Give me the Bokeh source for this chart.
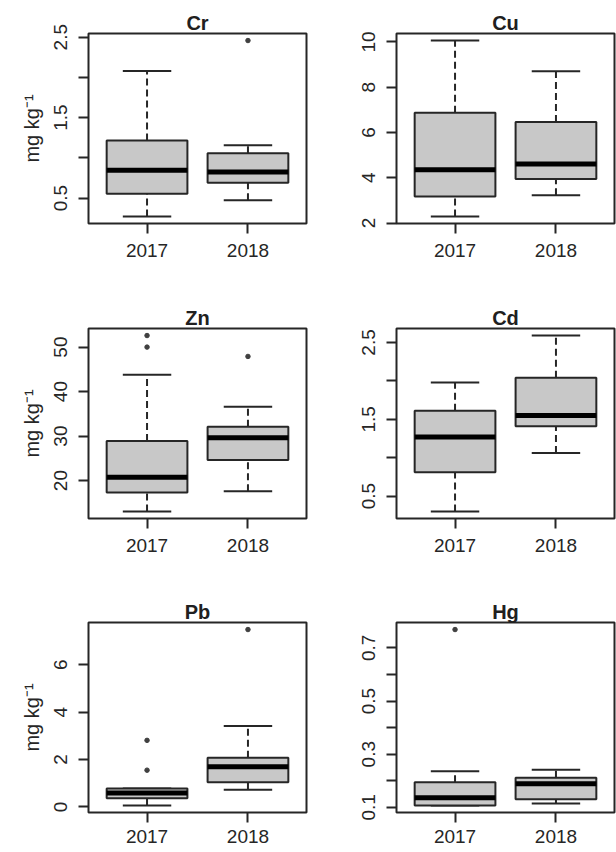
from bokeh.plotting import figure
from bokeh.layouts import column, row
from bokeh.models import ColumnDataSource, FixedTicker
from bokeh.embed import file_html
from bokeh.resources import INLINE

years = ["2017", "2018"]
metals = ["Cr", "Cu", "Zn", "Cd", "Pb", "Hg"]

# five-number summaries: [lower whisker, Q1, median, Q3, upper whisker]
cr_2017 = [0.272, 0.555, 0.845, 1.216, 2.08]
cr_2018 = [0.475, 0.69, 0.824, 1.057, 1.157]
cu_2017 = [2.29, 3.17, 4.35, 6.87, 10.06]
cu_2018 = [3.23, 3.94, 4.61, 6.46, 8.70]
zn_2017 = [13.05, 17.3, 20.75, 28.9, 43.76]
zn_2018 = [17.6, 24.6, 29.6, 32.1, 36.6]
cd_2017 = [0.30, 0.81, 1.27, 1.61, 1.98]
cd_2018 = [1.06, 1.41, 1.55, 2.04, 2.59]
pb_2017 = [0.06, 0.36, 0.59, 0.78, 0.78]
pb_2018 = [0.72, 1.04, 1.69, 2.08, 3.42]
hg_2017 = [0.107, 0.107, 0.136, 0.194, 0.236]
hg_2018 = [0.114, 0.130, 0.189, 0.211, 0.241]

# outliers
cr_out_2017 = []
cr_out_2018 = [2.458]
cu_out_2017 = []
cu_out_2018 = []
zn_out_2017 = [50.0, 52.6]
zn_out_2018 = [47.9]
cd_out_2017 = []
cd_out_2018 = []
pb_out_2017 = [1.55, 2.81]
pb_out_2018 = [7.49]
hg_out_2017 = [0.769]
hg_out_2018 = []

# y-axis ticks and their labels
cr_ticks = [0.5, 1.0, 1.5, 2.0, 2.5]
cr_labels = ["0.5", "", "1.5", "", "2.5"]
cu_ticks = [2, 4, 6, 8, 10]
cu_labels = ["2", "4", "6", "8", "10"]
zn_ticks = [20, 30, 40, 50]
zn_labels = ["20", "30", "40", "50"]
cd_ticks = [0.5, 1.0, 1.5, 2.0, 2.5]
cd_labels = ["0.5", "", "1.5", "", "2.5"]
pb_ticks = [0, 2, 4, 6]
pb_labels = ["0", "2", "4", "6"]
hg_ticks = [0.1, 0.2, 0.3, 0.4, 0.5, 0.6, 0.7]
hg_labels = ["0.1", "", "0.3", "", "0.5", "", "0.7"]

y_label = "mg kg\u207b\u00b9"

FONT = "Liberation Sans"
TITLE_FONT = "Liberation Sans"
DARK = "#262626"
BOX_FILL = "#c8c8c8"


def panel(name, s_a, s_b, o_a, o_b, ticks, labels, ylab, height, top, bottom, xstand=10):
    stats = [s_a, s_b]
    outs = [o_a, o_b]
    allv = s_a + s_b + o_a + o_b
    lo, hi = min(allv), max(allv)
    span = hi - lo
    x = [i + 1 for i in range(len(years))]
    p = figure(width=308, height=height, x_range=(0.42, 2.58),
               y_range=(lo - 0.04 * span, hi + 0.04 * span),
               output_backend="svg", toolbar_location=None,
               min_border_left=88, min_border_right=2,
               min_border_top=top, min_border_bottom=bottom,
               title=name)
    p.title.align = "center"
    p.title.text_font = TITLE_FONT
    p.title.text_font_size = "20px"
    p.title.text_font_style = "bold"
    p.title.text_color = "#202020"
    p.title.standoff = 0
    p.xgrid.visible = False
    p.ygrid.visible = False
    p.outline_line_color = DARK
    p.outline_line_width = 2
    p.background_fill_color = "white"

    src = ColumnDataSource(dict(
        x=x,
        wlo=[s[0] for s in stats], q1=[s[1] for s in stats],
        med=[s[2] for s in stats], q3=[s[3] for s in stats],
        whi=[s[4] for s in stats],
        cl=[v - 0.24 for v in x], cr=[v + 0.24 for v in x],
        bl=[v - 0.4 for v in x], br=[v + 0.4 for v in x],
    ))
    p.segment(x0="x", y0="q3", x1="x", y1="whi", source=src, line_color=DARK,
              line_width=2, line_dash="7 4")
    p.segment(x0="x", y0="wlo", x1="x", y1="q1", source=src, line_color=DARK,
              line_width=2, line_dash="7 4")
    p.segment(x0="cl", y0="whi", x1="cr", y1="whi", source=src, line_color=DARK, line_width=2)
    p.segment(x0="cl", y0="wlo", x1="cr", y1="wlo", source=src, line_color=DARK, line_width=2)
    p.vbar(x="x", width=0.8, bottom="q1", top="q3", source=src, fill_color=BOX_FILL,
           line_color=DARK, line_width=2)
    p.segment(x0="bl", y0="med", x1="br", y1="med", source=src, line_color="black", line_width=5)

    ox, oy = [], []
    for xi, o in zip(x, outs):
        ox += [xi] * len(o)
        oy += o
    p.scatter(ox, oy, size=4.5, color="#404040")

    xa = p.xaxis[0]
    xa.ticker = FixedTicker(ticks=x)
    xa.major_label_overrides = {xi: y for xi, y in zip(x, years)}
    ya = p.yaxis[0]
    ya.ticker = FixedTicker(ticks=ticks)
    ya.major_label_overrides = {t: l for t, l in zip(ticks, labels)}
    ya.major_label_orientation = "vertical"
    for ax in (xa, ya):
        ax.axis_line_color = None
        ax.major_tick_in = 0
        ax.major_tick_out = 10
        ax.minor_tick_out = 0
        ax.minor_tick_in = 0
        ax.major_tick_line_color = DARK
        ax.major_tick_line_width = 2
        ax.major_label_text_font = FONT
        ax.major_label_text_font_size = "19px"
        ax.major_label_text_color = DARK
    xa.major_label_standoff = xstand
    ya.major_label_standoff = 11
    if ylab:
        ya.axis_label = ylab
        ya.axis_label_text_font = FONT
        ya.axis_label_text_font_size = "20px"
        ya.axis_label_text_font_style = "normal"
        ya.axis_label_text_color = DARK
        ya.axis_label_standoff = 9
    return p


p1 = panel("Cr", cr_2017, cr_2018, cr_out_2017, cr_out_2018, cr_ticks, cr_labels, y_label, 300, 33, 77)
p2 = panel("Cu", cu_2017, cu_2018, cu_out_2017, cu_out_2018, cu_ticks, cu_labels, None, 300, 33, 77)
p3 = panel("Zn", zn_2017, zn_2018, zn_out_2017, zn_out_2018, zn_ticks, zn_labels, y_label, 290, 28, 72)
p4 = panel("Cd", cd_2017, cd_2018, cd_out_2017, cd_out_2018, cd_ticks, cd_labels, None, 290, 28, 72)
p5 = panel("Pb", pb_2017, pb_2018, pb_out_2017, pb_out_2018, pb_ticks, pb_labels, y_label, 262, 32, 40, 7)
p6 = panel("Hg", hg_2017, hg_2018, hg_out_2017, hg_out_2018, hg_ticks, hg_labels, None, 262, 32, 40, 7)

layout = column(row(p1, p2), row(p3, p4), row(p5, p6))
open("out.html", "w").write(file_html(layout, INLINE))
